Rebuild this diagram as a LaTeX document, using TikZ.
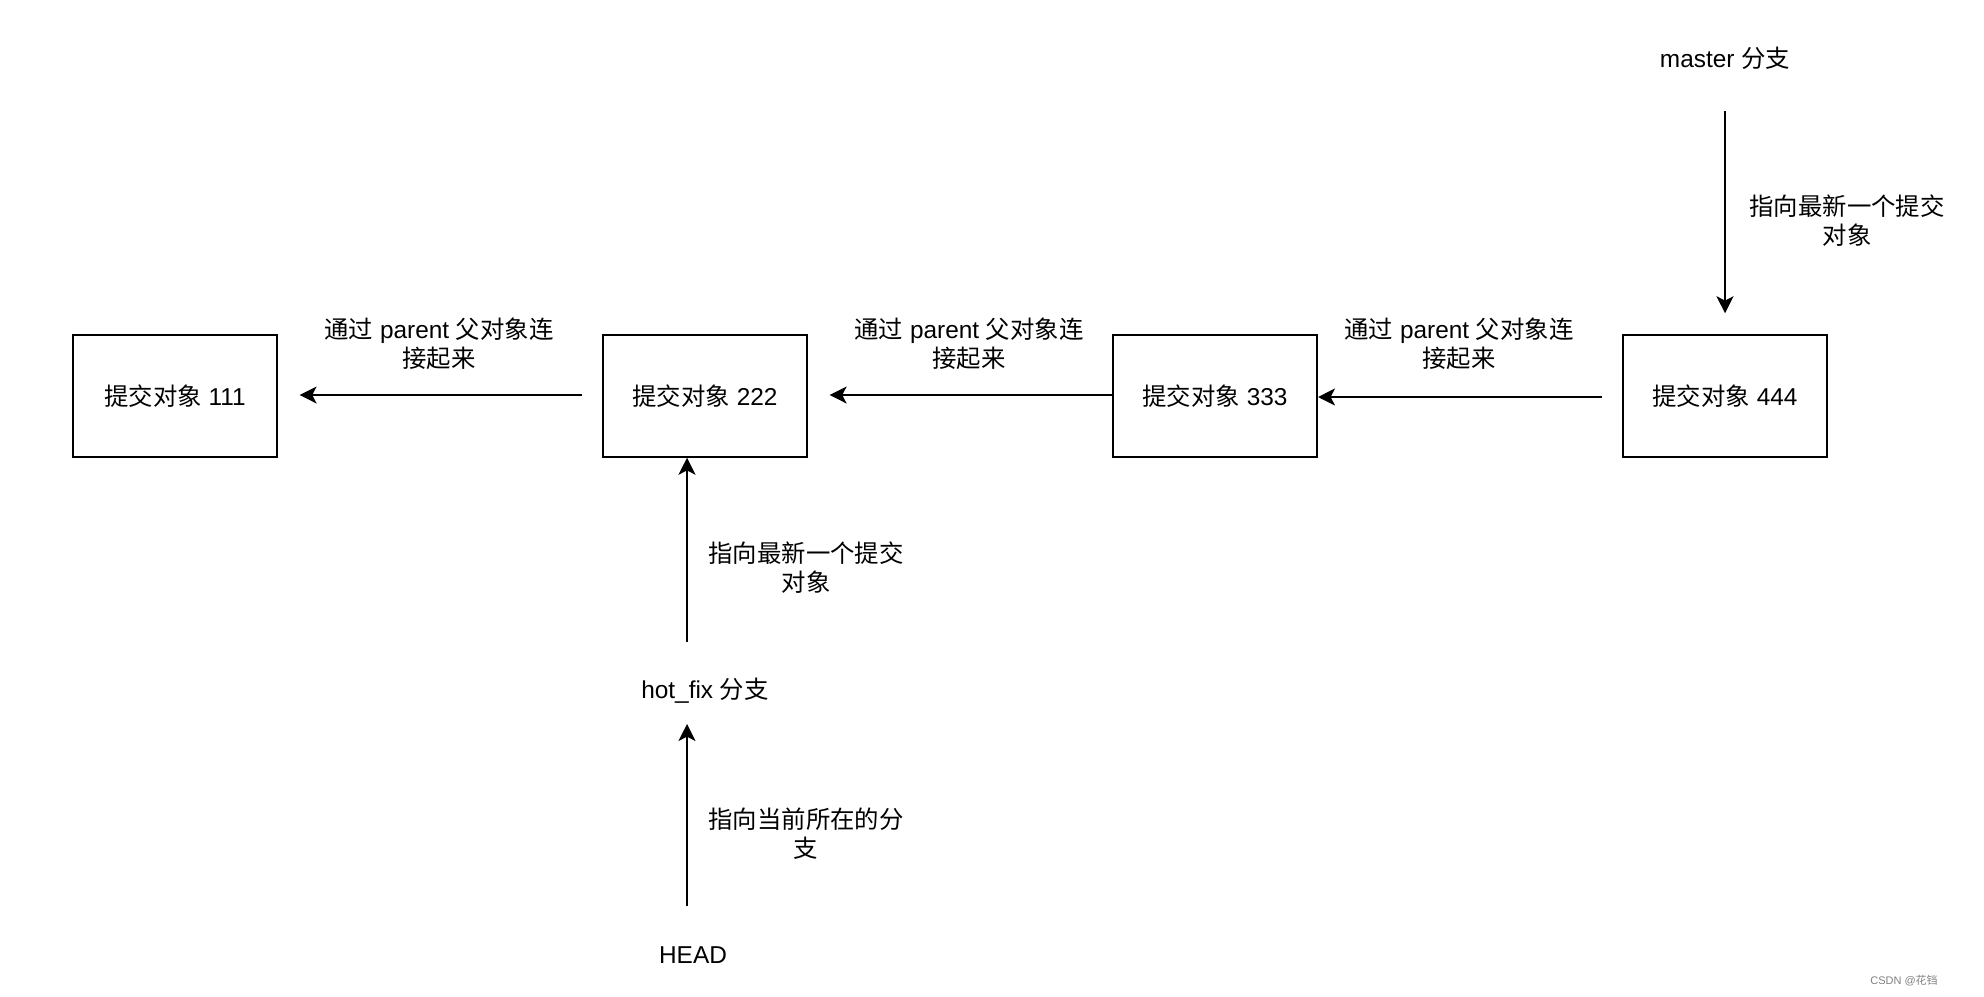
\documentclass[tikz,border=0pt]{standalone}
\usepackage{fontspec}
\setmainfont{Liberation Sans}
\newfontfamily\cjk{Noto Sans CJK SC}
\newcommand\zh[1]{{\cjk #1}}
\usetikzlibrary{arrows.meta}
\begin{document}
\begin{tikzpicture}[x=0.5pt,y=-0.5pt,
  every node/.style={font=\fontsize{12.2}{14.5}\selectfont, inner sep=0pt},
  commit/.style={draw, line width=1pt, minimum width=102pt, minimum height=60.75pt},
  lbl/.style={align=center},
  arr/.style={line width=0.9pt, -{Stealth[length=8.5pt,width=8.5pt,inset=2.2pt]}}]
\useasboundingbox (0,0) rectangle (1984,996);

\node[commit] (b1) at (175,396) {\zh{提交对象} 111};
\node[commit] (b2) at (705,396) {\zh{提交对象} 222};
\node[commit] (b3) at (1215,396) {\zh{提交对象} 333};
\node[commit] (b4) at (1725,396) {\zh{提交对象} 444};

\draw[arr] ([xshift=-10pt,yshift=0.5pt]b2.west) -- ([xshift=10.8pt,yshift=0.5pt]b1.east);
\draw[arr] ([yshift=0.5pt]b3.west) -- ([xshift=10.8pt,yshift=0.5pt]b2.east);
\draw[arr] ([xshift=-10pt,yshift=-0.5pt]b4.west) -- ([yshift=-0.5pt]b3.east);

\node[lbl] (p1) at (439,343.5) {\zh{通过} parent \zh{父对象连}\\\zh{接起来}};
\node[lbl] (p2) at (969,343.5) {\zh{通过} parent \zh{父对象连}\\\zh{接起来}};
\node[lbl] (p3) at (1459,343.5) {\zh{通过} parent \zh{父对象连}\\\zh{接起来}};

\node (master) at (1725,58) {master \zh{分支}};
\coordinate (mstart) at (1725,111);
\draw[arr] (mstart) -- ([yshift=10.5pt]b4.north);
\node[lbl] (ml) at (1847,221) {\zh{指向最新一个提交}\\\zh{对象}};

\node (hot) at (705,691) {hot\_fix \zh{分支}};
\coordinate (hstart) at (687,641.5);
\draw[arr] (hstart) -- (b2.south -| hstart);
\node[lbl] (hl) at (806,568) {\zh{指向最新一个提交}\\\zh{对象}};

\node (head) at (693,955) {HEAD};
\coordinate (headstart) at (687,906);
\coordinate (headend) at (687,724);
\draw[arr] (headstart) -- (headend);
\node[lbl] (headl) at (806,834) {\zh{指向当前所在的分}\\\zh{支}};

\node[font=\fontsize{5.5}{6}\selectfont, text=gray] (wm) at (1904,981) {CSDN @\zh{花铛}};
\end{tikzpicture}
\end{document}
